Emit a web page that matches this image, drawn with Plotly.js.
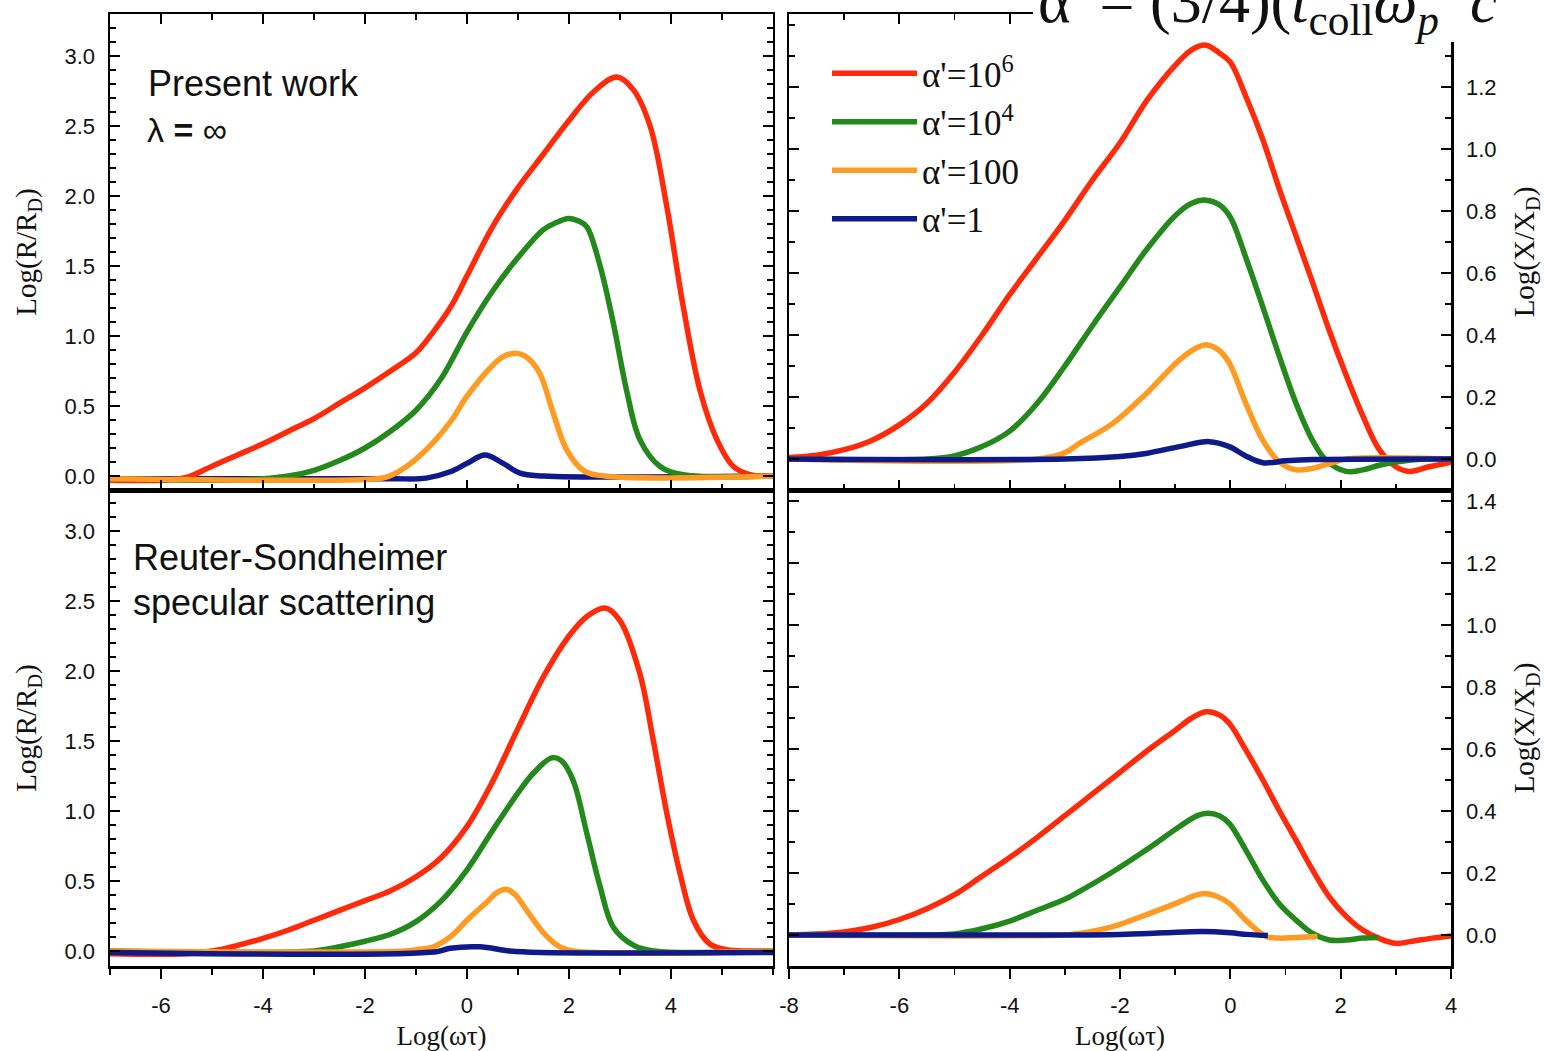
<!DOCTYPE html>
<html>
<head>
<meta charset="utf-8">
<script src="https://cdn.plot.ly/plotly-3.0.1.min.js"></script>
<style>html,body{margin:0;padding:0;background:#fff;}#chart{width:1544px;height:1051px;}</style>
</head>
<body>
<div id="chart"></div>
<script>
// ---------- series names ----------
const seriesNames = ["α'=10<sup>6</sup>", "α'=10<sup>4</sup>", "α'=100", "α'=1"];

// ---------- tick labels ----------
const leftXTicks = [-6, -4, -2, 0, 2, 4];
const rightXTicks = [-8, -6, -4, -2, 0, 2, 4];
const topRightYTicks = [0, 0.2, 0.4, 0.6, 0.8, 1.0, 1.2];
const bottomRightYTicks = [0, 0.2, 0.4, 0.6, 0.8, 1.0, 1.2, 1.4];

// ---------- Top-left: Present work, Log(R/R_D) ----------
const tlRedX = [-7, -6, -5.5, -5, -4.5, -4, -3.5, -3, -2.5, -2, -1.5, -1, -0.66, -0.3, 0, 0.5, 1, 1.5, 2, 2.5, 2.94, 3.26, 3.59, 3.92, 4.24, 4.57, 4.9, 5.22, 5.55, 6];
const tlRedY = [-0.03, -0.03, -0.01, 0.07, 0.15, 0.23, 0.32, 0.41, 0.52, 0.63, 0.75, 0.88, 1.03, 1.22, 1.43, 1.78, 2.06, 2.3, 2.54, 2.75, 2.85, 2.76, 2.5, 1.92, 1.21, 0.61, 0.26, 0.07, 0.01, 0];
const tlGreenX = [-7, -5, -4, -3.5, -3, -2.5, -2, -1.5, -1, -0.5, 0, 0.5, 1, 1.5, 1.75, 1.99, 2.2, 2.35, 2.61, 2.87, 3.13, 3.39, 3.78, 4.24, 6];
const tlGreenY = [-0.02, -0.03, -0.02, 0.0, 0.04, 0.11, 0.2, 0.32, 0.47, 0.7, 1.03, 1.32, 1.56, 1.76, 1.81, 1.84, 1.82, 1.78, 1.5, 1.09, 0.61, 0.26, 0.07, 0.01, 0];
const tlOrangeX = [-7, -2, -1.6, -1.3, -1, -0.66, -0.3, 0, 0.5, 0.75, 1.0, 1.2, 1.43, 1.69, 1.95, 2.28, 2.7, 6];
const tlOrangeY = [-0.02, -0.025, -0.01, 0.04, 0.12, 0.24, 0.4, 0.57, 0.79, 0.86, 0.876, 0.84, 0.73, 0.45, 0.19, 0.04, 0.0, 0.0];
const tlBlueX = [-7, -1.5, -0.8, -0.33, 0, 0.35, 0.71, 1.04, 1.5, 6];
const tlBlueY = [-0.02, -0.02, -0.015, 0.03, 0.09, 0.15, 0.09, 0.02, 0.0, 0];

// ---------- Bottom-left: Reuter-Sondheimer, Log(R/R_D) ----------
const blRedX = [-7, -5.5, -5, -4.5, -4, -3.5, -3, -2.5, -2, -1.5, -1, -0.5, 0, 0.5, 1, 1.5, 2, 2.35, 2.71, 3.0, 3.39, 3.65, 3.92, 4.18, 4.44, 4.76, 5.09, 5.5, 6];
const blRedY = [-0.02, -0.02, 0.0, 0.04, 0.09, 0.15, 0.22, 0.29, 0.36, 0.43, 0.53, 0.67, 0.89, 1.21, 1.59, 1.96, 2.25, 2.39, 2.45, 2.36, 1.98, 1.51, 0.98, 0.55, 0.22, 0.05, 0.01, 0, 0];
const blGreenX = [-7, -3, -2.5, -2, -1.5, -1, -0.5, 0, 0.5, 1, 1.3, 1.66, 1.85, 2.08, 2.35, 2.61, 2.87, 3.27, 3.66, 6];
const blGreenY = [0, 0.0, 0.03, 0.07, 0.12, 0.21, 0.36, 0.58, 0.86, 1.13, 1.27, 1.38, 1.36, 1.22, 0.84, 0.46, 0.17, 0.04, 0.0, 0];
const blOrangeX = [-7, -1.2, -1, -0.66, -0.3, 0, 0.39, 0.6, 0.78, 0.95, 1.17, 1.5, 1.82, 2.08, 6];
const blOrangeY = [0, 0, 0.01, 0.03, 0.11, 0.22, 0.35, 0.42, 0.44, 0.40, 0.29, 0.13, 0.03, 0, 0];
const blBlueX = [-7, -0.6, -0.33, 0.25, 0.84, 1.43, 6];
const blBlueY = [-0.01, -0.005, 0.02, 0.03, 0.0, -0.01, -0.01];

// ---------- Top-right: Present work, Log(X/X_D) ----------
const trRedX = [-8, -7.5, -7, -6.5, -6, -5.5, -5, -4.5, -4, -3.5, -3, -2.5, -2, -1.5, -1, -0.7, -0.44, -0.2, 0, 0.28, 0.59, 0.89, 1.19, 1.49, 1.79, 2.1, 2.4, 2.7, 3.0, 3.24, 3.6, 4];
const trRedY = [0.005, 0.012, 0.03, 0.06, 0.11, 0.18, 0.28, 0.40, 0.53, 0.65, 0.77, 0.9, 1.02, 1.16, 1.27, 1.32, 1.335, 1.31, 1.28, 1.17, 1.03, 0.87, 0.72, 0.57, 0.416, 0.27, 0.14, 0.03, -0.025, -0.04, -0.025, -0.01];
const trGreenX = [-8, -5.5, -5, -4.5, -4, -3.5, -3, -2.5, -2, -1.5, -1, -0.7, -0.44, -0.2, 0, 0.28, 0.59, 0.89, 1.19, 1.49, 1.73, 2.1, 2.4, 2.7, 3.0, 3.5, 4];
const trGreenY = [0, 0, 0.01, 0.04, 0.09, 0.18, 0.30, 0.43, 0.555, 0.68, 0.785, 0.825, 0.835, 0.82, 0.78, 0.65, 0.49, 0.33, 0.18, 0.06, -0.003, -0.04, -0.035, -0.02, -0.01, 0, 0];
const trOrangeX = [-8, -3.5, -3, -2.74, -2.13, -1.53, -0.92, -0.6, -0.41, -0.2, -0.02, 0.28, 0.59, 0.89, 1.19, 1.49, 1.79, 2.1, 4];
const trOrangeY = [0, 0, 0.02, 0.05, 0.115, 0.21, 0.32, 0.36, 0.368, 0.35, 0.31, 0.18, 0.06, -0.01, -0.035, -0.03, -0.015, 0, 0];
const trBlueX = [-8, -3, -2, -1.53, -0.92, -0.38, -0.02, 0.28, 0.59, 1.0, 1.5, 4];
const trBlueY = [0, 0, 0.008, 0.018, 0.04, 0.056, 0.04, 0.01, -0.012, -0.006, -0.002, 0];

// ---------- Bottom-right: Reuter-Sondheimer, Log(X/X_D) ----------
const brRedX = [-8, -7.5, -7, -6.5, -6, -5.5, -5, -4.5, -4, -3.5, -3, -2.5, -2, -1.5, -1, -0.7, -0.44, -0.2, -0.02, 0.28, 0.59, 0.89, 1.19, 1.49, 1.79, 2.1, 2.4, 2.7, 3.0, 3.3, 3.66, 4];
const brRedY = [0, 0.003, 0.01, 0.025, 0.05, 0.085, 0.13, 0.19, 0.25, 0.315, 0.385, 0.455, 0.525, 0.595, 0.66, 0.70, 0.72, 0.71, 0.683, 0.597, 0.5, 0.4, 0.306, 0.21, 0.124, 0.06, 0.016, -0.011, -0.027, -0.02, -0.01, -0.003];
const brGreenX = [-8, -5.5, -5, -4.5, -4, -3.5, -3, -2.74, -2.13, -1.53, -0.92, -0.6, -0.41, -0.2, -0.02, 0.28, 0.59, 0.89, 1.19, 1.49, 1.79, 2.1, 2.4, 2.67];
const brGreenY = [0, 0, 0.003, 0.02, 0.045, 0.08, 0.115, 0.14, 0.204, 0.274, 0.35, 0.385, 0.393, 0.385, 0.36, 0.274, 0.177, 0.10, 0.048, 0.005, -0.016, -0.016, -0.01, -0.008];
const brOrangeX = [-8, -3, -2.74, -2.13, -1.53, -0.92, -0.65, -0.47, -0.25, -0.02, 0.28, 0.65, 0.89, 1.19, 1.58];
const brOrangeY = [0, 0, 0.005, 0.027, 0.065, 0.107, 0.127, 0.134, 0.125, 0.102, 0.048, -0.005, -0.01, -0.008, -0.005];
const brBlueX = [-8, -3, -2, -1.2, -0.5, 0, 0.3, 0.68];
const brBlueY = [0, 0, 0.002, 0.007, 0.011, 0.007, 0.002, -0.002];

// ---------- styling ----------
const colors = ["#ff2a0a", "#23891c", "#ff9a22", "#0e1a8a"];

function tr(x, y, idx, xa, ya, showlegend) {
  return {
    x: x, y: y, xaxis: xa, yaxis: ya, type: "scatter", mode: "lines",
    name: seriesNames[idx], legendrank: idx + 1, showlegend: showlegend,
    line: {color: colors[idx], width: 5.5, shape: "spline", smoothing: 1.0},
    hoverinfo: "x+y+name"
  };
}

const data = [
  // top-left (blue underneath, orange on top)
  tr(tlBlueX, tlBlueY, 3, "x", "y", false),
  tr(tlRedX, tlRedY, 0, "x", "y", false),
  tr(tlGreenX, tlGreenY, 1, "x", "y", false),
  tr(tlOrangeX, tlOrangeY, 2, "x", "y", false),
  // top-right (legend)
  tr(trRedX, trRedY, 0, "x2", "y2", true),
  tr(trGreenX, trGreenY, 1, "x2", "y2", true),
  tr(trOrangeX, trOrangeY, 2, "x2", "y2", true),
  tr(trBlueX, trBlueY, 3, "x2", "y2", true),
  // bottom-left
  tr(blRedX, blRedY, 0, "x3", "y3", false),
  tr(blGreenX, blGreenY, 1, "x3", "y3", false),
  tr(blOrangeX, blOrangeY, 2, "x3", "y3", false),
  tr(blBlueX, blBlueY, 3, "x3", "y3", false),
  // bottom-right
  tr(brRedX, brRedY, 0, "x4", "y4", false),
  tr(brGreenX, brGreenY, 1, "x4", "y4", false),
  tr(brOrangeX, brOrangeY, 2, "x4", "y4", false),
  tr(brBlueX, brBlueY, 3, "x4", "y4", false)
];

const tickFont = {family: "Liberation Sans, Arial, sans-serif", size: 22, color: "#111"};
const titleFont = {family: "Liberation Serif, Times New Roman, serif", size: 27, color: "#111"};
const yTitleFont = {family: "Liberation Serif, Times New Roman, serif", size: 29, color: "#111"};
const minorIn = (d) => ({dtick: d, ticks: "inside", ticklen: 6, tickwidth: 1.5, tickcolor: "#000"});
const minorOut = (d) => ({dtick: d, ticks: "outside", ticklen: 6, tickwidth: 1.5, tickcolor: "#000"});

function ax(extra) {
  return Object.assign({
    showline: true, linecolor: "#000", linewidth: 2.5,
    mirror: "allticks", ticks: "inside", ticklen: 10, tickwidth: 2, tickcolor: "#000",
    showgrid: false, zeroline: false, tickfont: tickFont, automargin: false,
    ticklabelstandoff: 8
  }, extra);
}

const xL = [0, 0.4944], xR = [0.50634, 1];
const yT = [0.5, 1], yB = [0, 0.5];

const layout = {
  width: 1544, height: 1051,
  margin: {l: 110, r: 93, t: 14, b: 85, pad: 0},
  paper_bgcolor: "#ffffff", plot_bgcolor: "rgba(0,0,0,0)",
  font: {family: "Liberation Sans, Arial, sans-serif", color: "#111"},
  showlegend: true,
  legend: {
    x: (827 - 110) / 1341, xanchor: "left",
    y: 1 - (44 - 14) / 952, yanchor: "top",
    bgcolor: "rgba(0,0,0,0)", borderwidth: 0,
    font: {family: "Liberation Serif, Times New Roman, serif", size: 35, color: "#111"},
    itemwidth: 85, traceorder: "normal"
  },
  xaxis: ax({domain: xL, anchor: "y", range: [-7, 6], tick0: 0, dtick: 2, showticklabels: false, minor: minorIn(1)}),
  yaxis: ax({domain: yT, anchor: "x", range: [-0.1, 3.3], tick0: 0, dtick: 0.5, tickformat: ".1f", minor: minorIn(0.1),
    title: {text: "Log(R/R<sub>D</sub>)", font: yTitleFont, standoff: 20}}),
  xaxis2: ax({domain: xR, anchor: "y2", range: [-8, 4], tick0: 0, dtick: 2, showticklabels: false, minor: minorIn(1)}),
  yaxis2: ax({domain: yT, anchor: "x2", side: "right", range: [-0.1, 1.4355], tickmode: "array",
    tickvals: topRightYTicks, ticktext: topRightYTicks.map(v => v.toFixed(1)), minor: minorIn(0.1),
    title: {text: "Log(X/X<sub>D</sub>)", font: yTitleFont, standoff: 18}}),
  xaxis3: ax({domain: xL, anchor: "y3", range: [-7, 6], tickmode: "array", tickvals: leftXTicks, ticktext: leftXTicks.map(String),
    ticks: "outside", mirror: true, minor: minorOut(1),
    title: {text: "Log(ωτ)", font: titleFont, standoff: 14}}),
  yaxis3: ax({domain: yB, anchor: "x3", range: [-0.107, 3.293], tick0: 0, dtick: 0.5, tickformat: ".1f", minor: minorIn(0.1),
    title: {text: "Log(R/R<sub>D</sub>)", font: yTitleFont, standoff: 20}}),
  xaxis4: ax({domain: xR, anchor: "y4", range: [-8, 4], tickmode: "array", tickvals: rightXTicks, ticktext: rightXTicks.map(String),
    ticks: "outside", mirror: true, minor: minorOut(1),
    title: {text: "Log(ωτ)", font: titleFont, standoff: 14}}),
  yaxis4: ax({domain: yB, anchor: "x4", side: "right", range: [-0.1, 1.4355], tickmode: "array",
    tickvals: bottomRightYTicks, ticktext: bottomRightYTicks.map(v => v.toFixed(1)), minor: minorIn(0.1),
    title: {text: "Log(X/X<sub>D</sub>)", font: yTitleFont, standoff: 18}}),
  // inward ticks on the top edge of the lower panels
  xaxis5: ax({overlaying: "x3", anchor: "y3", side: "top", range: [-7, 6], tick0: 0, dtick: 2, mirror: false,
    showline: false, showticklabels: false, minor: minorIn(1)}),
  xaxis6: ax({overlaying: "x4", anchor: "y4", side: "top", range: [-8, 4], tick0: 0, dtick: 2, mirror: false,
    showline: false, showticklabels: false, minor: minorIn(1)}),
  shapes: [
    {type: "rect", xref: "paper", yref: "paper", x0: (1033 - 110) / 1341, x1: 1.2,
     y0: 1 - (42 - 14) / 952, y1: 1.1, fillcolor: "#ffffff", line: {width: 0}, layer: "above"}
  ],
  annotations: [
    {xref: "paper", yref: "paper", x: (146 - 110) / 1341, y: 1 - (84 - 14) / 952, xanchor: "left", yanchor: "middle",
     text: "Present work", showarrow: false, font: {family: "Liberation Sans, Arial, sans-serif", size: 36, color: "#111"}},
    {xref: "paper", yref: "paper", x: (145 - 110) / 1341, y: 1 - (130 - 14) / 952, xanchor: "left", yanchor: "middle",
     text: "λ <b>=</b> ∞", showarrow: false, font: {family: "Liberation Sans, Arial, sans-serif", size: 34, color: "#111"}},
    {xref: "paper", yref: "paper", x: (131 - 110) / 1341, y: 1 - (557 - 14) / 952, xanchor: "left", yanchor: "middle",
     text: "Reuter-Sondheimer", showarrow: false, font: {family: "Liberation Sans, Arial, sans-serif", size: 36, color: "#111"}},
    {xref: "paper", yref: "paper", x: (131 - 110) / 1341, y: 1 - (602 - 14) / 952, xanchor: "left", yanchor: "middle",
     text: "specular scattering", showarrow: false, font: {family: "Liberation Sans, Arial, sans-serif", size: 36, color: "#111"}},
    {xref: "paper", yref: "paper", x: (1036 - 110) / 1341, y: 1 - (46 - 14) / 952, xanchor: "left", yanchor: "bottom",
     text: "α′ = (3/4)(<i>t</i><sub>coll</sub><i>ω</i><sub><i>p</i></sub>&nbsp;&nbsp;<i>c</i>", showarrow: false,
     font: {family: "Liberation Serif, Times New Roman, serif", size: 62, color: "#111"}}
  ]
};

Plotly.newPlot("chart", data, layout, {displayModeBar: false, staticPlot: true});
</script>
</body>
</html>
